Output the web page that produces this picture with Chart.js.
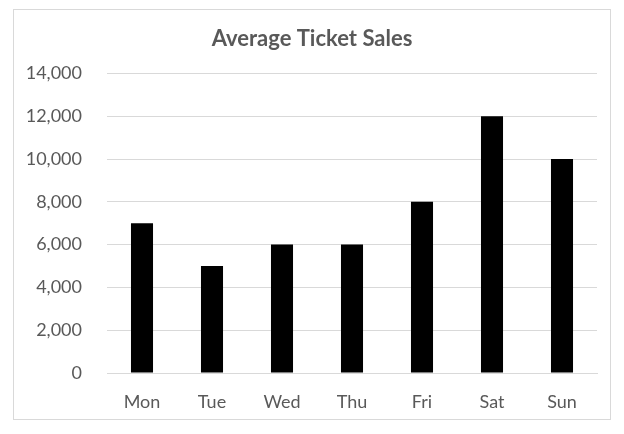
<!DOCTYPE html>
<html>
<head>
<meta charset="utf-8">
<script src="https://cdn.jsdelivr.net/npm/chart.js@4/dist/chart.umd.min.js"></script>
<style>
  html, body { margin: 0; padding: 0; background: #fff; }
  #frame {
    position: absolute; left: 13px; top: 9px;
    width: 598px; height: 411px;
    border: 1px solid #d9d9d9; box-sizing: border-box;
  }
  #wrap { position: absolute; left: 0; top: 0; width: 624px; height: 434px; }
</style>
</head>
<body>
<div id="frame"></div>
<div id="wrap"><canvas id="chart"></canvas></div>
<script>
const days = ["Mon", "Tue", "Wed", "Thu", "Fri", "Sat", "Sun"];
const ticketSales = [7000, 5000, 6000, 6000, 8000, 12000, 10000];
const yMax = 14000;
const yStep = 2000;

const textGray = "#595959";
const gridGray = "#d9d9d9";

new Chart(document.getElementById("chart"), {
  type: "bar",
  data: {
    labels: days,
    datasets: [{
      label: "Average Ticket Sales",
      data: ticketSales,
      backgroundColor: "#000000",
      categoryPercentage: 1,
      barPercentage: 0.315,
    }],
  },
  options: {
    responsive: true,
    maintainAspectRatio: false,
    animation: false,
    layout: { padding: 0 },
    plugins: {
      legend: { display: false },
      tooltip: { enabled: false },
      title: {
        display: true,
        text: "Average Ticket Sales",
        color: textGray,
        font: { family: "Lato", size: 22, weight: "bold" },
        padding: { top: 26, bottom: 21 },
      },
    },
    scales: {
      x: {
        grid: { display: false, drawTicks: false },
        border: { display: true, color: gridGray, width: 1 },
        ticks: {
          color: textGray,
          font: { family: "Lato", size: 18 },
          padding: 18,
        },
        afterFit: (scale) => { scale.height = 61; },
      },
      y: {
        min: 0,
        max: yMax,
        grid: { color: gridGray, drawTicks: false },
        border: { display: false },
        ticks: {
          stepSize: yStep,
          color: textGray,
          font: { family: "Lato", size: 18 },
          padding: 25,
          callback: (v) => v.toLocaleString("en-US"),
        },
        afterFit: (scale) => { scale.width = 107; },
      },
      // empty right-hand spacer so the title stays centred on the whole frame
      yRight: {
        position: "right",
        grid: { display: false, drawTicks: false },
        border: { display: false },
        ticks: { display: false },
        afterFit: (scale) => { scale.width = 27; },
      },
    },
  },
});
</script>
</body>
</html>
